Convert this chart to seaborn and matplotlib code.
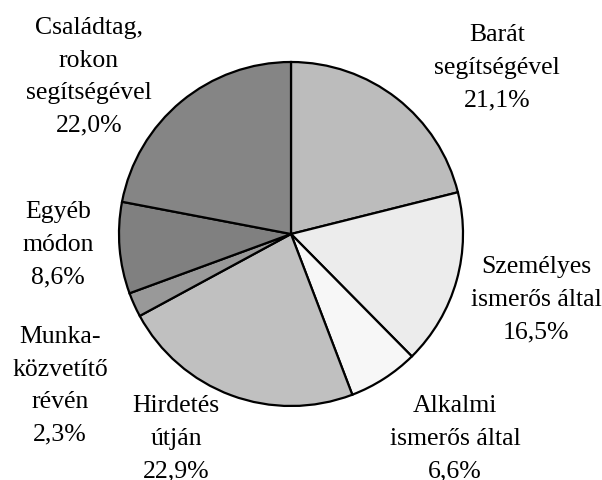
import matplotlib
matplotlib.use("Agg")
import matplotlib.pyplot as plt
import seaborn as sns

# data (percent)
categories = ["Barát\nsegítségével", "Személyes\nismerős által", "Alkalmi\nismerős által",
              "Hirdetés\nútján", "Munka-\nközvetítő\nrévén", "Egyéb\nmódon",
              "Családtag,\nrokon\nsegítségével"]
shares = [21.1, 16.5, 6.6, 22.9, 2.3, 8.6, 22.0]
pct_labels = ["21,1%", "16,5%", "6,6%", "22,9%", "2,3%", "8,6%", "22,0%"]

# greys of the slices
slice_colors = ["#bcbcbc", "#ececec", "#f7f7f7", "#c0c0c0", "#999999", "#808080", "#858585"]

# label block centres in pixel coords (y from top)
label_pos = [(497, 68), (536, 300), (455, 439), (176, 439), (60, 386), (58, 245), (89, 77)]

W, H = 602, 481
sns.set_theme(style="white")
plt.rcParams["font.family"] = ["Liberation Serif", "DejaVu Serif"]

fig = plt.figure(figsize=(W / 100, H / 100), dpi=100)
ax = fig.add_axes([0, 0, 1, 1])

ax.pie(shares, colors=slice_colors, startangle=90, counterclock=False,
       center=(291, H - 235), radius=172, frame=True,
       wedgeprops=dict(edgecolor="black", linewidth=1.6))
ax.set_xlim(0, W)
ax.set_ylim(0, H)
ax.set_aspect("equal")
ax.axis("off")

for cat, pct, (x, y) in zip(categories, pct_labels, label_pos):
    ax.text(x, H - y, cat + "\n" + pct, ha="center", va="center",
            fontsize=18.5, linespacing=1.62, color="black")

fig.savefig("out.png", dpi=100, facecolor="white")
